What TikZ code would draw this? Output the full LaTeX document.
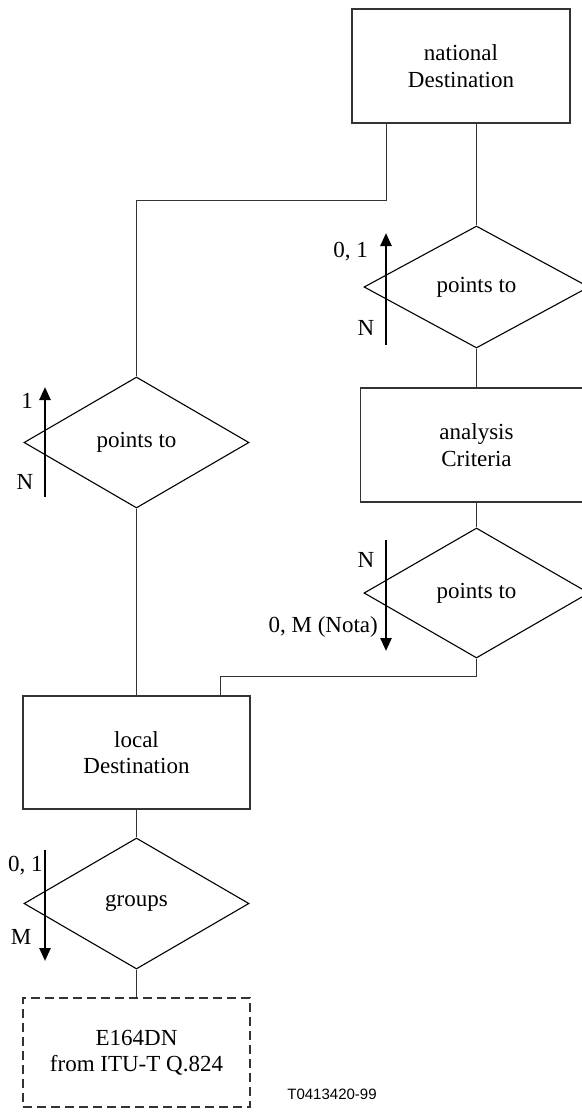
\documentclass[tikz,border=0pt]{standalone}
\usepackage{fontspec}
\setmainfont{Liberation Serif}
\newfontfamily\labelsans{Liberation Sans}
\usetikzlibrary{shapes.geometric,arrows.meta}
\begin{document}
\begin{tikzpicture}[x=1pt,y=-1pt,
  every node/.style={font=\fontsize{23}{26.5}\selectfont},
  entity/.style={draw=black!80, line width=1.2pt, rectangle, align=center, inner sep=0pt},
  rel/.style={draw=black, line width=1.1pt, diamond, inner sep=0pt, minimum width=225pt, minimum height=130pt},
  conn/.style={draw=black!80, line width=1.4pt},
  card/.style={line width=2.5pt, -{Triangle[length=13pt,width=11pt]}},
  lbl/.style={inner sep=0pt}]
\useasboundingbox (0,0) rectangle (581,1113);
% entities
\node[entity, minimum width=218pt, minimum height=114pt] (nat) at (461,66) {national\\Destination};
\node[entity, minimum width=232pt, minimum height=114pt] (ana) at (476.5,445) {analysis\\Criteria};
\node[entity, minimum width=227pt, minimum height=113pt] (loc) at (136.5,752.5) {local\\Destination};
\node[entity, dashed, dash pattern=on 9pt off 5pt, minimum width=227pt, minimum height=109pt] (e164) at (136.5,1052.5) {E164DN\\from ITU-T Q.824};
% relationships
\node[rel, minimum height=122pt] (d1) at (476.5,287) {points to};
\node[rel, minimum height=131pt] (d2) at (136.5,442.5) {points to};
\node[rel] (d3) at (476.5,593) {points to};
\node[rel, minimum height=131pt] (d4) at (136.5,903.5) {groups};
% connectors
\draw[conn] (nat.south -| 386.5,0) |- (136.5,200.5) -- (d2.north);
\draw[conn] (nat.south -| d1.north) -- (d1.north);
\draw[conn] (d1.south) -- (ana.north -| d1.south);
\draw[conn] (ana.south -| d3.north) -- (d3.north);
\draw[conn] (d3.south) |- (220.5,676.5) -- (loc.north -| 220.5,0);
\draw[conn] (d2.south) -- (loc.north -| d2.south);
\draw[conn] (loc.south) -- (d4.north);
\draw[conn] (d4.south) -- (e164.north -| d4.south);
% cardinality arrows
\coordinate (a1s) at (386,345); \coordinate (a1e) at (386,233);
\coordinate (a2s) at (45,497);  \coordinate (a2e) at (45,387);
\coordinate (a3s) at (386,540); \coordinate (a3e) at (386,651);
\coordinate (a4s) at (45,850);  \coordinate (a4e) at (45,961);
\draw[card] (a1s) -- (a1e);
\draw[card] (a2s) -- (a2e);
\draw[card] (a3s) -- (a3e);
\draw[card] (a4s) -- (a4e);
% labels
\node[lbl, anchor=east] (l1a) at (368,252) {0, 1};
\node[lbl] (l1b) at (366,328) {N};
\node[lbl] (l2a) at (27,401) {1};
\node[lbl] (l2b) at (25,482) {N};
\node[lbl] (l3a) at (366,560) {N};
\node[lbl, anchor=east] (l3b) at (378,627) {0, M (Nota)};
\node[lbl, anchor=west] (l4a) at (8,866) {0, 1};
\node[lbl] (l4b) at (21,937) {M};
\node[lbl, font=\labelsans\fontsize{15}{18}\selectfont] (tag) at (332,1094) {T0413420-99};
\end{tikzpicture}
\end{document}
